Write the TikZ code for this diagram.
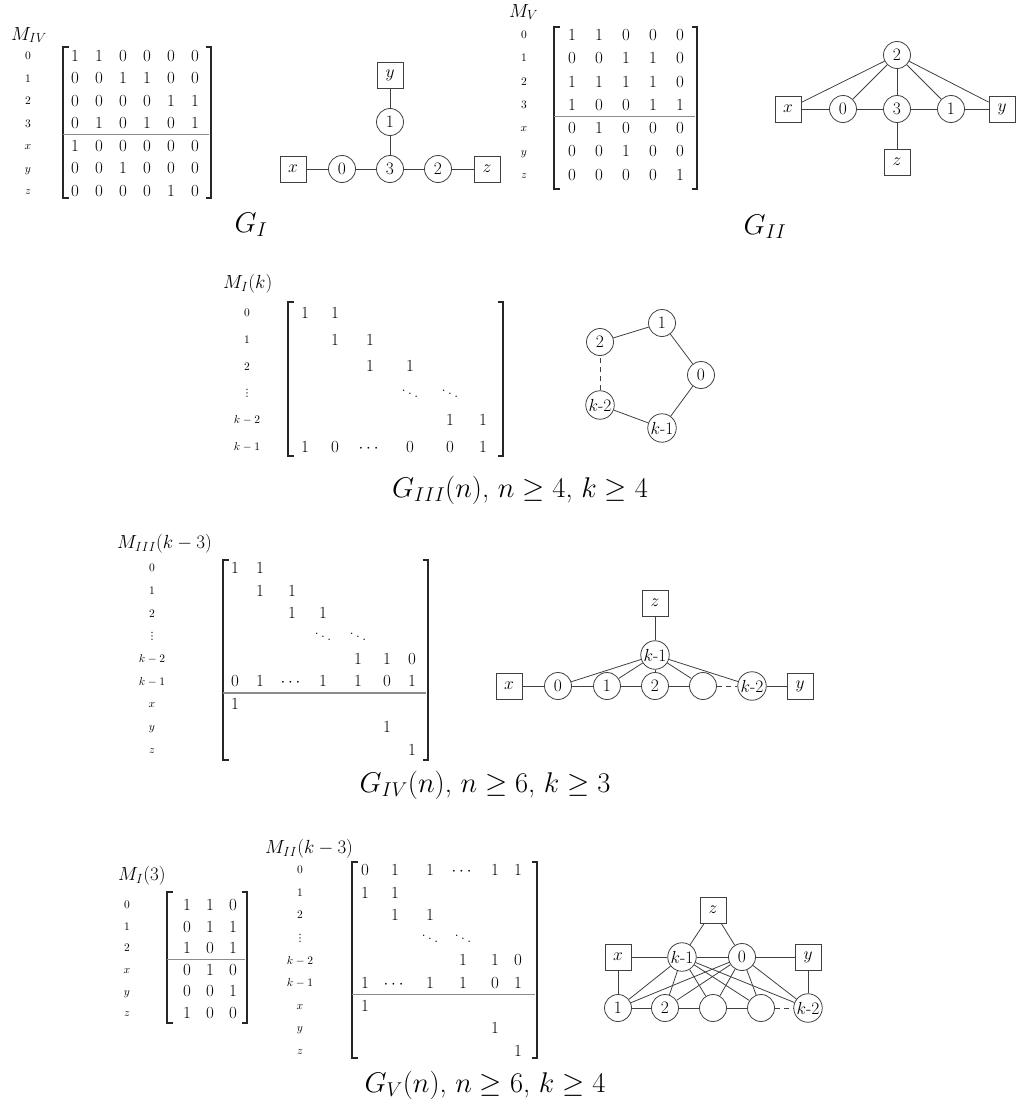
\RequirePackage{fix-cm}
\documentclass[tikz,border=0pt]{standalone}
\usepackage{amsmath,amssymb}
\usepackage{fontspec}
\newfontfamily\djv{DejaVu Sans}
\newcommand{\mybrack}[4]{%
  \draw[bline] (#1+5.5,#3) -- (#1,#3) -- (#1,#4) -- (#1+5.5,#4);
  \draw[bline] (#2-5.5,#3) -- (#2,#3) -- (#2,#4) -- (#2-5.5,#4);}
\newcommand{\rvdots}{{\djv\fontsize{10}{12}\selectfont ⋮}}
\begin{document}
\begin{tikzpicture}[x=1pt,y=-1pt,
  ent/.style={inner sep=0pt, font=\fontsize{17}{19}\selectfont, text height=10.9pt, text depth=0pt},
  rlab/.style={inner sep=0pt, font=\fontsize{11.5}{13}\selectfont, text height=7.4pt, text depth=0pt},
  mlab/.style={inner sep=0pt, anchor=west, font=\fontsize{19}{22}\selectfont},
  capt/.style={inner sep=0pt, font=\fontsize{28.5}{32}\selectfont},
  bline/.style={line width=1.4pt, black!85},
  hrule/.style={line width=1.2pt, black!45},
  vtx/.style={circle, draw=black!75, line width=0.8pt, minimum size=27pt, inner sep=1pt, font=\fontsize{17.5}{20}\selectfont, fill=white},
  term/.style={rectangle, draw=black!75, line width=0.8pt, minimum size=26pt, inner sep=0pt, font=\fontsize{17.5}{20}\selectfont, fill=white},
  conn/.style={draw=black!75, line width=0.8pt},
  dconn/.style={draw=black!75, line width=0.8pt, dash pattern=on 5pt off 4pt},
]
\useasboundingbox (0,0) rectangle (1016,1108);

% ---------------- M_IV ----------------
\node[mlab] (m4lab) at (11,35) {$M_{IV}$};
\foreach \l [count=\i] in {0,1,2,3,x,y,z}
  \node[rlab] (m4r\i) at (28,{56+22.5*(\i-1)}) {$\l$};
\foreach \r [count=\i] in {{1,1,0,0,0,0},{0,0,1,1,0,0},{0,0,0,0,1,1},{0,1,0,1,0,1},{1,0,0,0,0,0},{0,0,1,0,0,0},{0,0,0,0,1,0}}{
  \foreach \v [count=\j] in \r
    \node[ent] (m4e\i\j) at ({75+24*(\j-1)},{56+22.5*(\i-1)}) {$\v$};
}
\mybrack{63}{211}{47}{198}
\draw[hrule] (63,134.5) -- (209,134.5);

% ---------------- G_I ----------------
\node[term] (g1y) at (390,75) {$y$};
\node[vtx] (g1v1) at (390,122) {1};
\node[vtx] (g1v3) at (390,169) {3};
\node[vtx] (g1v0) at (342,169) {0};
\node[vtx] (g1v2) at (438,169) {2};
\node[term] (g1x) at (293,169) {$x$};
\node[term] (g1z) at (487,169) {$z$};
\draw[conn] (g1x) -- (g1v0);
\draw[conn] (g1v0) -- (g1v3);
\draw[conn] (g1v3) -- (g1v2);
\draw[conn] (g1v2) -- (g1z);
\draw[conn] (g1v3) -- (g1v1);
\draw[conn] (g1v1) -- (g1y);
\node[capt] (capI) at (251,225) {$G_I$};

% ---------------- M_V ----------------
\node[mlab] (m5lab) at (509,12) {$M_{V}$};
\foreach \l [count=\i] in {0,1,2,3,x,y,z}
  \node[rlab] (m5r\i) at (524,{35+23.3*(\i-1)}) {$\l$};
\foreach \r [count=\i] in {{1,1,0,0,0},{0,0,1,1,0},{1,1,1,1,0},{1,0,0,1,1},{0,1,0,0,0},{0,0,1,0,0},{0,0,0,0,1}}{
  \foreach \v [count=\j] in \r
    \node[ent] (m5e\i\j) at ({572+27*(\j-1)},{35+23.3*(\i-1)}) {$\v$};
}
\mybrack{554}{697}{27}{189}
\draw[hrule] (554,116.5) -- (695,116.5);

% ---------------- G_II ----------------
\node[vtx] (g2v2) at (897,55) {2};
\node[term] (g2x) at (788,109) {$x$};
\node[vtx] (g2v0) at (843,109) {0};
\node[vtx] (g2v3) at (897,109) {3};
\node[vtx] (g2v1) at (951,109) {1};
\node[term] (g2y) at (1002,109) {$y$};
\node[term] (g2z) at (897,162) {$z$};
\foreach \t in {g2x,g2v0,g2v3,g2v1,g2y}
  \draw[conn] (g2v2) -- (\t);
\draw[conn] (g2x) -- (g2v0);
\draw[conn] (g2v0) -- (g2v3);
\draw[conn] (g2v3) -- (g2v1);
\draw[conn] (g2v1) -- (g2y);
\draw[conn] (g2v3) -- (g2z);
\node[capt] (capII) at (765,227) {$G_{II}$};

% ---------------- M_I(k) ----------------
\node[mlab] (m1lab) at (223,284) {$M_I(k)$};
\foreach \l/\yy [count=\i] in {$0$/313,$1$/340,$2$/366.5,\rvdots/393,$k-2$/420,$k-1$/447}
  \node[rlab] (m1r\i) at (247,\yy) {\l};
\foreach \xx/\yy/\v [count=\n] in {305/313/1,335/313/1,335/340/1,370/340/1,370/366.5/1,410/366.5/1,
   410/393/\ddots,450/393/\ddots,450/420/1,483/420/1,
   305/447/1,335/447/0,370/447/\cdots,410/447/0,450/447/0,483/447/1}
  \node[ent] (m1e\n) at (\xx,\yy) {$\v$};
\mybrack{288}{503}{302}{456}

% ---------------- G_III ----------------
\node[vtx] (g3v1) at (662,323) {1};
\node[vtx] (g3v2) at (600,342) {2};
\node[vtx] (g3v0) at (701,375) {0};
\node[vtx] (g3vk2) at (600,405) {$k$-2};
\node[vtx] (g3vk1) at (662,428) {$k$-1};
\draw[conn] (g3v2) -- (g3v1);
\draw[conn] (g3v1) -- (g3v0);
\draw[conn] (g3v0) -- (g3vk1);
\draw[conn] (g3vk1) -- (g3vk2);
\draw[dconn] (g3vk2) -- (g3v2);
\node[capt] (capIII) at (520,490) {$G_{III}(n)$, $n\geq 4$, $k\geq 4$};

% ---------------- M_III(k-3) ----------------
\node[mlab] (m3lab) at (117,544) {$M_{III}(k-3)$};
\foreach \l/\yy [count=\i] in {$0$/568,$1$/590.7,$2$/613.4,\rvdots/636.1,$k-2$/658.8,$k-1$/681.5,$x$/704.2,$y$/726.9,$z$/749.6}
  \node[rlab] (m3r\i) at (152,\yy) {\l};
\foreach \xx/\yy/\v [count=\n] in {235/568/1,260/568/1,
   260/590.7/1,292/590.7/1,
   292/613.4/1,323/613.4/1,
   323/636.1/\ddots,358/636.1/\ddots,
   358/658.8/1,387/658.8/1,412/658.8/0,
   235/681.5/0,260/681.5/1,292/681.5/\cdots,323/681.5/1,358/681.5/1,387/681.5/0,412/681.5/1,
   235/704.2/1,387/726.9/1,412/749.6/1}
  \node[ent] (m3e\n) at (\xx,\yy) {$\v$};
\mybrack{223}{428}{560}{760}
\draw[hrule] (223,693) -- (426,693);

% ---------------- G_IV ----------------
\node[term] (g4z) at (655,603) {$z$};
\node[vtx] (g4vk1) at (655,655) {$k$-1};
\node[term] (g4x) at (509,686) {$x$};
\node[vtx] (g4v0) at (558,686) {0};
\node[vtx] (g4v1) at (607,686) {1};
\node[vtx] (g4v2) at (655,686) {2};
\node[vtx] (g4ve) at (703,686) {};
\node[vtx] (g4vk2) at (752,686) {$k$-2};
\node[term] (g4y) at (800,686) {$y$};
\draw[conn] (g4z) -- (g4vk1);
\foreach \t in {g4v0,g4v1,g4v2,g4ve,g4vk2}
  \draw[conn] (g4vk1) -- (\t);
\draw[conn] (g4x) -- (g4v0);
\draw[conn] (g4v0) -- (g4v1);
\draw[conn] (g4v1) -- (g4v2);
\draw[conn] (g4v2) -- (g4ve);
\draw[dconn] (g4ve) -- (g4vk2);
\draw[conn] (g4vk2) -- (g4y);
\node[capt] (capIV) at (485,785) {$G_{IV}(n)$, $n\geq 6$, $k\geq 3$};

% ---------------- M_I(3) ----------------
\node[mlab] (m13lab) at (118,876) {$M_I(3)$};
\foreach \l [count=\i] in {0,1,2,x,y,z}
  \node[rlab] (m13r\i) at (127,{905+21.6*(\i-1)}) {$\l$};
\foreach \r [count=\i] in {{1,1,0},{0,1,1},{1,0,1},{0,1,0},{0,0,1},{1,0,0}}{
  \foreach \v [count=\j] in \r
    \node[ent] (m13e\i\j) at ({187+23*(\j-1)},{905+21.6*(\i-1)}) {$\v$};
}
\mybrack{167}{247}{892}{1023}
\draw[hrule] (167,959.5) -- (245,959.5);

% ---------------- M_II(k-3) ----------------
\node[mlab] (m2lab) at (265,849) {$M_{II}(k-3)$};
\foreach \l/\yy [count=\i] in {$0$/870,$1$/892.6,$2$/915.2,\rvdots/937.8,$k-2$/960.4,$k-1$/983,$x$/1005.6,$y$/1028.2,$z$/1050.8}
  \node[rlab] (m2r\i) at (300,\yy) {\l};
\foreach \xx/\yy/\v [count=\n] in {365/870/0,395/870/1,430/870/1,463/870/\cdots,495/870/1,518/870/1,
   365/892.6/1,395/892.6/1,
   395/915.2/1,430/915.2/1,
   430/937.8/\ddots,463/937.8/\ddots,
   463/960.4/1,495/960.4/1,518/960.4/0,
   365/983/1,395/983/\cdots,430/983/1,463/983/1,495/983/0,518/983/1,
   365/1005.6/1,495/1028.2/1,518/1050.8/1}
  \node[ent] (m2e\n) at (\xx,\yy) {$\v$};
\mybrack{352}{537}{862}{1058}
\draw[hrule] (352,994.5) -- (535,994.5);

% ---------------- G_V ----------------
\node[term] (g5z) at (713,910) {$z$};
\node[term] (g5x) at (618,957) {$x$};
\node[vtx] (g5vk1) at (682,957) {$k$-1};
\node[vtx] (g5v0) at (742,957) {0};
\node[term] (g5y) at (808,957) {$y$};
\node[vtx] (g5v1) at (618,1008) {1};
\node[vtx] (g5v2) at (665,1008) {2};
\node[vtx] (g5va) at (713,1008) {};
\node[vtx] (g5vb) at (761,1008) {};
\node[vtx] (g5vk2) at (808,1008) {$k$-2};
\draw[conn] (g5z) -- (g5vk1);
\draw[conn] (g5z) -- (g5v0);
\draw[conn] (g5x) -- (g5vk1);
\draw[conn] (g5vk1) -- (g5v0);
\draw[conn] (g5v0) -- (g5y);
\draw[conn] (g5x) -- (g5v1);
\draw[conn] (g5y) -- (g5vk2);
\draw[conn] (g5v1) -- (g5v2);
\draw[conn] (g5v2) -- (g5va);
\draw[conn] (g5va) -- (g5vb);
\draw[dconn] (g5vb) -- (g5vk2);
\foreach \t in {g5v1,g5v2,g5va,g5vb,g5vk2}{
  \draw[conn] (g5vk1) -- (\t);
  \draw[conn] (g5v0) -- (\t);
}
\node[capt] (capV) at (485,1085) {$G_V(n)$, $n\geq 6$, $k\geq 4$};
\end{tikzpicture}
\end{document}
